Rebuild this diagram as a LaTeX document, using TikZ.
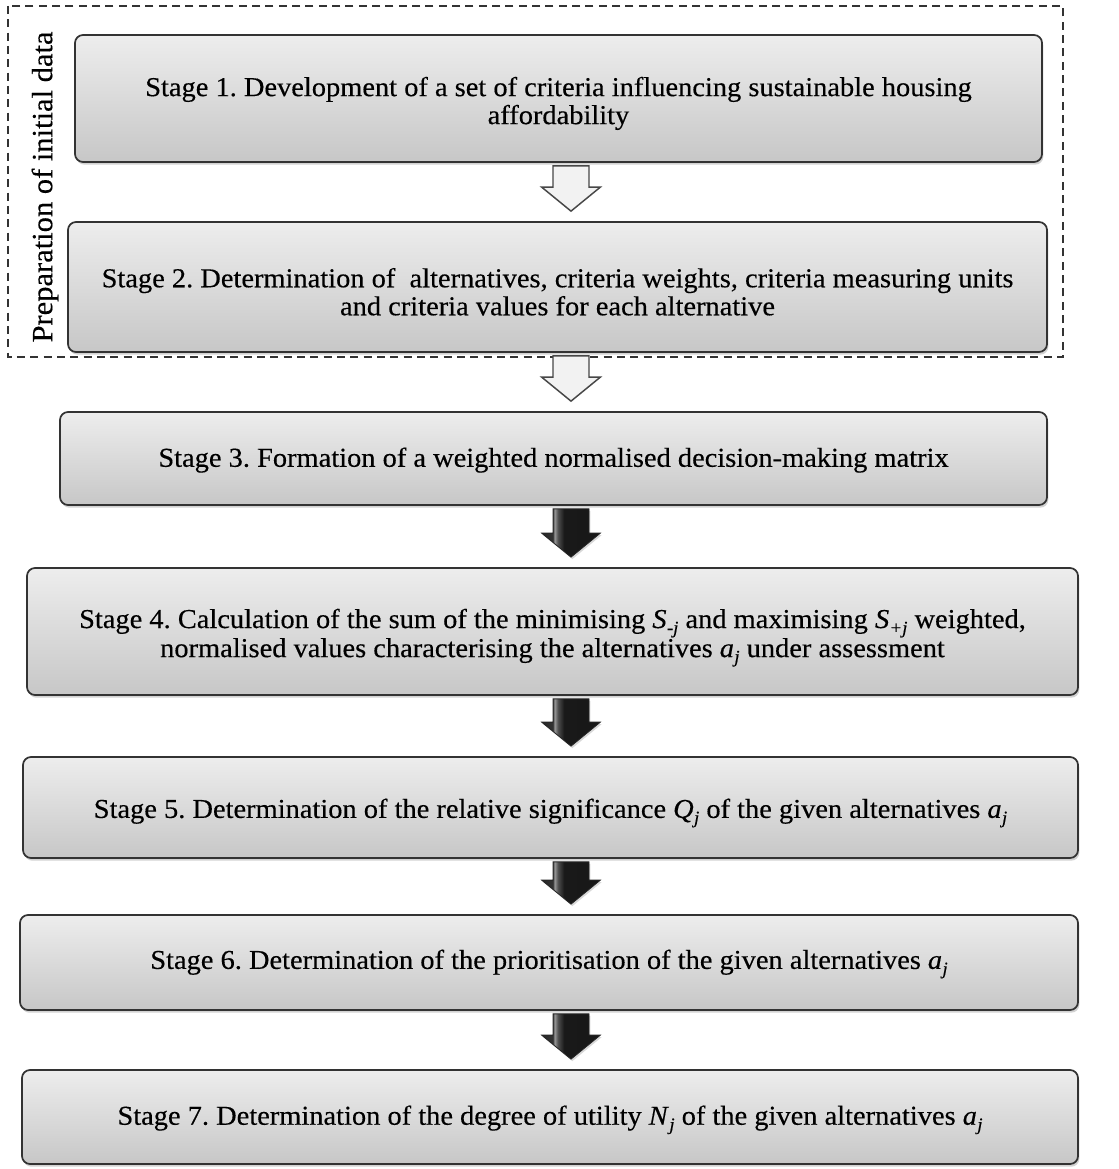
\documentclass[tikz,border=0pt]{standalone}
\usepackage{fontspec}
\setmainfont{Liberation Serif}[FakeStretch=1.04, FakeBold=0.35]
\usetikzlibrary{calc,shadows}
\frenchspacing

% one drawing unit = 0.75pt
\newcommand\uu{0.75pt}
% italic symbol with a lowered italic index
\newcommand\symb[2]{\textit{#1}\kern0.3pt\raisebox{-0.45ex}{\fontsize{13.5}{14}\selectfont\itshape #2}}
% centred lines, set a little lower than the box centre
\newcommand\lines[2]{\raisebox{-#1}[\height][\depth]{\begin{tabular}{@{}c@{}}#2\end{tabular}}}

% dark block arrow: narrow light strip on the shaft's left edge
\pgfdeclarehorizontalshading{darkblock}{100bp}{color(0bp)=(black!85); color(25bp)=(black!85); color(34.5bp)=(black!80); color(36bp)=(black!40); color(39bp)=(black!70); color(44bp)=(black!90); color(100bp)=(black!92)}

\tikzset{
  stagebox/.style={draw=black!80, line width=1.3pt, rounded corners=6pt,
    top color=gray!14, bottom color=gray!44,
    drop shadow={shadow xshift=1pt, shadow yshift=-2pt, opacity=0.35},
    inner sep=0pt,
    font=\fontsize{20.5}{21}\selectfont},
  lightarrow/.style={draw=black!72, line width=1.1pt, fill=gray!10, line join=miter},
  darkarrow/.style={draw=black!85, line width=0.6pt, shading=darkblock,
    drop shadow={shadow xshift=1pt, shadow yshift=-1.5pt, opacity=0.3}},
  groupframe/.style={draw=black!80, line width=1pt, dash pattern=on 6pt off 4pt},
}

% block arrow between two named boxes, on the vertical line through (axis)
\newcommand\blockarrow[3]{%
  \path[#3] let \p1=(#1.south -| axis), \p2=(#2.north -| axis) in
    ({\x1-13.5pt},{\y1-2.25pt}) -- ({\x1+13.5pt},{\y1-2.25pt})
    -- ({\x1+13.5pt},{\y2+25.5pt}) -- ({\x1+22pt},{\y2+25.5pt})
    -- (\x1,{\y2+7.5pt})
    -- ({\x1-22pt},{\y2+25.5pt}) -- ({\x1-13.5pt},{\y2+25.5pt}) -- cycle;}

\begin{document}
\begin{tikzpicture}[x=\uu, y=-\uu]
\useasboundingbox (0,0) rectangle (1118,1169);
\fill[white] (0,0) rectangle (1118,1169);
\clip (0,0) rectangle (1118,1169);

\coordinate (axis) at (571,0);

% frame around the two preparation stages
\draw[groupframe] (8,6) rectangle (1063,357);
\node[rotate=90, font=\fontsize{22}{23}\selectfont] (prep) at (45,187) {Preparation of initial data};

\node[stagebox, minimum width=967*\uu, minimum height=127*\uu] (s1) at (558.5,98.5)
  {\lines{4.5pt}{Stage 1. Development of a set of criteria influencing sustainable housing\\affordability}};
\node[stagebox, minimum width=979*\uu, minimum height=130*\uu] (s2) at (557.5,287)
  {\lines{6.5pt}{Stage 2. Determination of\ \ alternatives, criteria weights, criteria measuring units\\and criteria values for each alternative}};
\node[stagebox, minimum width=987*\uu, minimum height=93*\uu] (s3) at (553.5,458.5)
  {\lines{2pt}{Stage 3. Formation of a weighted normalised decision-making matrix}};
\node[stagebox, minimum width=1051*\uu, minimum height=127*\uu] (s4) at (552.5,631.5)
  {\lines{4.5pt}{Stage 4. Calculation of the sum of the minimising \symb{S}{-j} and maximising \symb{S}{+j} weighted,\\normalised values characterising the alternatives \symb{a}{j} under assessment}};
\node[stagebox, minimum width=1055*\uu, minimum height=101*\uu] (s5) at (550.5,807.5)
  {\lines{4pt}{Stage 5. Determination of the relative significance \symb{Q}{j} of the given alternatives \symb{a}{j}}};
\node[stagebox, minimum width=1058*\uu, minimum height=95*\uu] (s6) at (549,962.5)
  {\lines{1pt}{Stage 6. Determination of the prioritisation of the given alternatives \symb{a}{j}}};
\node[stagebox, minimum width=1056*\uu, minimum height=94*\uu] (s7) at (550,1117)
  {\lines{2pt}{Stage 7. Determination of the degree of utility \symb{N}{j} of the given alternatives \symb{a}{j}}};

\blockarrow{s1}{s2}{lightarrow}
\blockarrow{s2}{s3}{lightarrow}
\blockarrow{s3}{s4}{darkarrow}
\blockarrow{s4}{s5}{darkarrow}
\blockarrow{s5}{s6}{darkarrow}
\blockarrow{s6}{s7}{darkarrow}
\end{tikzpicture}
\end{document}
